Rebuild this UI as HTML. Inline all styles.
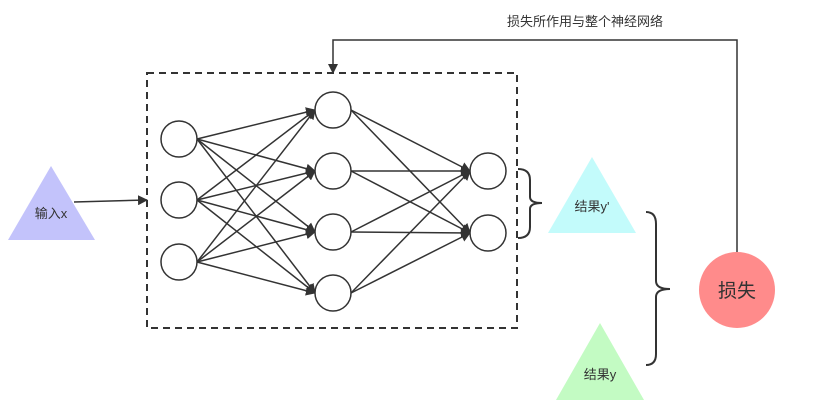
<!DOCTYPE html><html><head><style>body{margin:0;background:#fff}svg text{font-family:"Liberation Sans","Noto Sans CJK SC",sans-serif;fill:#333}</style></head><body>
<svg width="823" height="411" xmlns="http://www.w3.org/2000/svg">
<defs><marker id="a" markerWidth="10" markerHeight="10" refX="9" refY="5" orient="auto" markerUnits="userSpaceOnUse"><path d="M0,0 L10,5 L0,10 Z" fill="#333"/></marker></defs>
<rect x="147" y="73" width="370" height="255" fill="none" stroke="#333" stroke-width="2" stroke-dasharray="7,5"/>
<g stroke="#333" stroke-width="1.5" marker-end="url(#a)">
<line x1="197" y1="139" x2="315" y2="110"/><line x1="197" y1="139" x2="315" y2="171"/><line x1="197" y1="139" x2="315" y2="232"/><line x1="197" y1="139" x2="315" y2="293"/>
<line x1="197" y1="200" x2="315" y2="110"/><line x1="197" y1="200" x2="315" y2="171"/><line x1="197" y1="200" x2="315" y2="232"/><line x1="197" y1="200" x2="315" y2="293"/>
<line x1="197" y1="262" x2="315" y2="110"/><line x1="197" y1="262" x2="315" y2="171"/><line x1="197" y1="262" x2="315" y2="232"/><line x1="197" y1="262" x2="315" y2="293"/>
<line x1="351" y1="110" x2="470" y2="171"/><line x1="351" y1="110" x2="470" y2="233"/>
<line x1="351" y1="171" x2="470" y2="171"/><line x1="351" y1="171" x2="470" y2="233"/>
<line x1="351" y1="232" x2="470" y2="171"/><line x1="351" y1="232" x2="470" y2="233"/>
<line x1="351" y1="293" x2="470" y2="171"/><line x1="351" y1="293" x2="470" y2="233"/>
<line x1="74" y1="202" x2="147" y2="200"/>
<polyline points="737,252 737,40 333,40 333,73" fill="none"/>
</g>
<g fill="#fff" stroke="#333" stroke-width="1.5">
<circle cx="179" cy="139" r="18"/><circle cx="179" cy="200" r="18"/><circle cx="179" cy="262" r="18"/>
<circle cx="333" cy="110" r="18"/><circle cx="333" cy="171" r="18"/><circle cx="333" cy="232" r="18"/><circle cx="333" cy="293" r="18"/>
<circle cx="488" cy="171" r="18"/><circle cx="488" cy="233" r="18"/>
</g>
<polygon points="51,166 8,240 95,240" fill="#c3c3fb"/>
<text x="51" y="218" font-size="13" text-anchor="middle">输入x</text>
<polygon points="592,157 548,233 636,233" fill="#c3fbfb"/>
<text x="592" y="211" font-size="13" text-anchor="middle">结果y'</text>
<polygon points="600,323 556,400 644,400" fill="#c3fbc3"/>
<text x="600" y="379" font-size="13" text-anchor="middle">结果y</text>
<circle cx="737" cy="290" r="38" fill="#ff8b8b"/>
<text x="737" y="297" font-size="19" text-anchor="middle">损失</text>
<text x="585" y="26" font-size="13" text-anchor="middle">损失所作用与整个神经网络</text>
<g fill="none" stroke="#333" stroke-width="2">
<path d="M518,169 Q530,169 530,180 L530,197 Q530,203 542,203 Q530,203 530,209 L530,227 Q530,238 518,238"/>
<path d="M646,212 Q656,212 656,224 L656,281 Q656,289 670,289 Q656,289 656,297 L656,354 Q656,365 646,365"/>
</g>
</svg></body></html>
